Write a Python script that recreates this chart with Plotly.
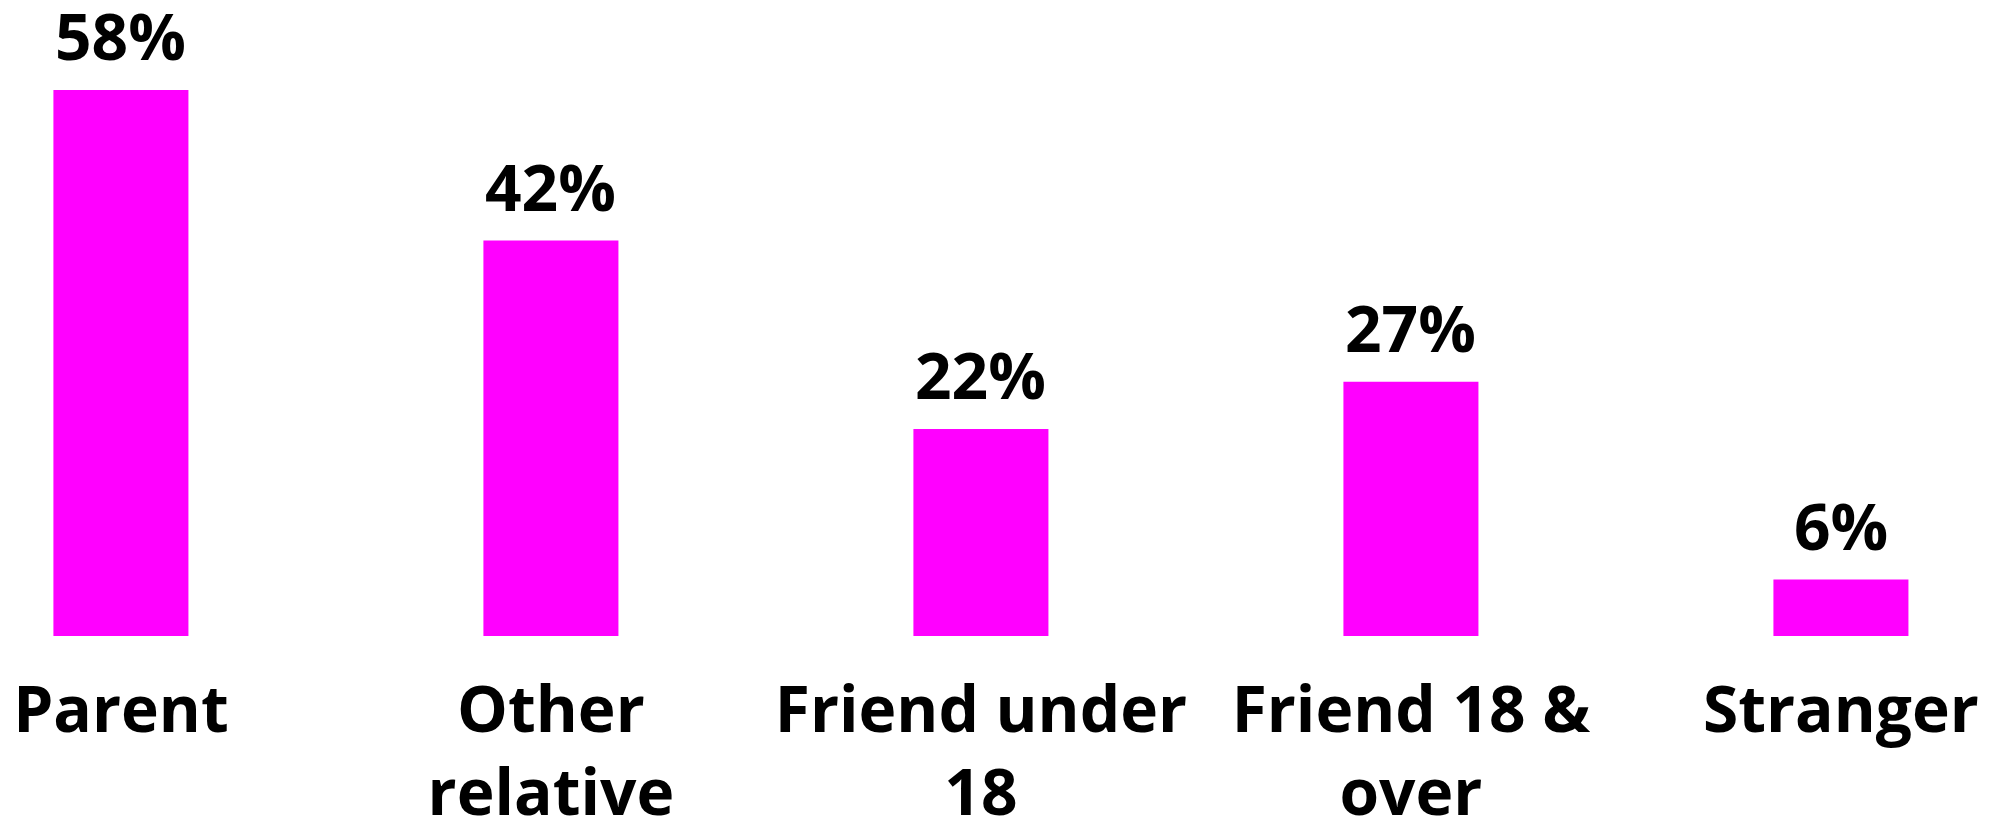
import plotly.graph_objects as go

categories = ['Parent', 'Other<br>relative', 'Friend under<br>18', 'Friend 18 &<br>over', 'Stranger']
values = [58, 42, 22, 27, 6]
labels = ['58%', '42%', '22%', '27%', '6%']

FONT = 'Open Sans'

fig = go.Figure()
fig.add_trace(go.Bar(
    x=categories, y=values,
    marker=dict(color='#FF00FF', line=dict(width=0)),
    width=0.314,
))

# value labels sit a little higher above the bars than textposition='outside'
for cat, val, lab in zip(categories, values, labels):
    fig.add_annotation(
        x=cat, y=val, text=lab, showarrow=False,
        xanchor='center', yanchor='bottom', yshift=9,
        font=dict(family=FONT, size=64, color='black', weight='bold'),
    )

fig.update_layout(
    width=1987, height=810,
    margin=dict(l=0, r=0, t=0, b=182),
    plot_bgcolor='white', paper_bgcolor='white',
    showlegend=False,
    xaxis=dict(
        range=[-0.2626, 4.3583],
        showgrid=False, zeroline=False, showline=False, ticks='',
        automargin=False,
        ticklabelstandoff=31,
        tickfont=dict(family=FONT, size=64, color='black', weight='bold'),
    ),
    yaxis=dict(
        range=[0, 66.71], visible=False,
    ),
)

fig.write_html('out.html')
